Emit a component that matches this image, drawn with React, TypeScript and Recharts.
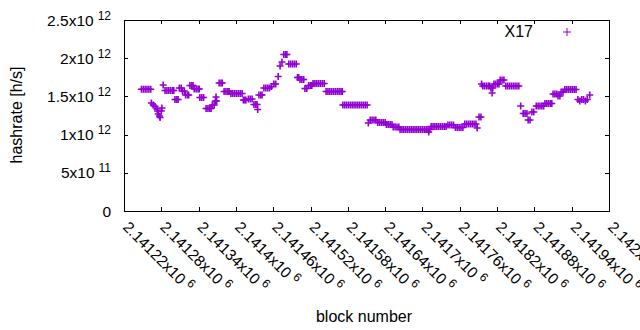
import React from 'react';
import { ScatterChart, Scatter, XAxis, YAxis, Legend } from 'recharts';

const FONT = '"Liberation Sans", Arial, Helvetica, sans-serif';
const COLOR = '#9400d3';

// plot frame (matches chart margins + axis sizes below)
const FRAME = { left: 124, top: 20, right: 609, bottom: 211 };
const TICK_LEN = 4;

const seriesName = 'X17';
const xTitle = 'block number';
const yTitle = 'hashrate [h/s]';

const xDomain = [2141220, 2142000];
const xTicks = [2141220, 2141280, 2141340, 2141400, 2141460, 2141520, 2141580, 2141640, 2141700, 2141760, 2141820, 2141880, 2141940, 2142000];
const xTickMantissas = ['2.14122', '2.14128', '2.14134', '2.1414', '2.14146', '2.14152', '2.14158', '2.14164', '2.1417', '2.14176', '2.14182', '2.14188', '2.14194', '2.142'];
const xTickExponent = '6';

const yDomain = [0, 2.5e12];
const yTicks = [0, 5e11, 1e12, 1.5e12, 2e12, 2.5e12];
const yTickMantissas = ['0', '5x10', '1x10', '1.5x10', '2x10', '2.5x10'];
const yTickExponents = ['', '11', '12', '12', '12', '12'];

const blockNumbers = [
  2141248, 2141251, 2141254, 2141257, 2141260, 2141263,
  2141264, 2141267, 2141270, 2141273, 2141274, 2141275, 2141277, 2141278, 2141280, 2141281,
  2141283, 2141286, 2141289, 2141292, 2141295, 2141298, 2141300,
  2141302, 2141305, 2141307, 2141309, 2141312,
  2141314, 2141317, 2141319, 2141322, 2141324,
  2141326, 2141329, 2141331, 2141333, 2141336, 2141339, 2141341,
  2141342, 2141345, 2141348, 2141352, 2141355, 2141358, 2141360,
  2141362, 2141365, 2141367, 2141368, 2141369,
  2141373, 2141376, 2141378, 2141381, 2141384, 2141387, 2141389,
  2141392, 2141395, 2141398, 2141401, 2141404, 2141407, 2141410,
  2141412, 2141414, 2141416, 2141420, 2141423, 2141426,
  2141429, 2141432, 2141434, 2141435, 2141437, 2141440, 2141442,
  2141445, 2141448, 2141451, 2141454, 2141457, 2141461, 2141464,
  2141468, 2141471, 2141474, 2141477, 2141480, 2141482,
  2141485, 2141488, 2141491, 2141494, 2141497,
  2141499, 2141501, 2141503, 2141506, 2141509, 2141511, 2141514,
  2141517, 2141520, 2141522,
  2141524, 2141527, 2141530, 2141533, 2141536, 2141539, 2141542,
  2141545, 2141548, 2141551, 2141554, 2141557, 2141560, 2141563, 2141566, 2141569, 2141571,
  2141572, 2141575, 2141578, 2141581, 2141584, 2141587, 2141590, 2141593, 2141596, 2141599, 2141602, 2141605, 2141608, 2141611,
  2141613, 2141616, 2141619, 2141622, 2141625,
  2141628, 2141631, 2141634, 2141637, 2141640,
  2141642, 2141645, 2141648, 2141651, 2141653, 2141656, 2141659, 2141662,
  2141664, 2141667, 2141670, 2141673, 2141676, 2141679, 2141682, 2141685, 2141688, 2141691, 2141694, 2141697, 2141700, 2141703, 2141706, 2141709, 2141712,
  2141710,
  2141714, 2141717, 2141720, 2141723, 2141726, 2141729, 2141732, 2141735, 2141738,
  2141741, 2141744, 2141747, 2141750,
  2141753, 2141756, 2141759, 2141762, 2141765,
  2141768, 2141771, 2141774, 2141777, 2141780, 2141783, 2141786,
  2141788, 2141791, 2141794, 2141795,
  2141797, 2141800, 2141803, 2141806, 2141808,
  2141810, 2141812, 2141813,
  2141815, 2141818, 2141821, 2141823,
  2141825, 2141828, 2141831,
  2141834, 2141837, 2141840, 2141843, 2141846, 2141849, 2141852, 2141855,
  2141858, 2141862, 2141865, 2141868, 2141870, 2141873, 2141876, 2141879,
  2141883, 2141886, 2141889, 2141892, 2141895,
  2141897, 2141900, 2141903, 2141906, 2141908,
  2141910, 2141913, 2141916, 2141918, 2141921, 2141923, 2141926,
  2141929, 2141932, 2141935, 2141938, 2141941, 2141944, 2141947,
  2141950, 2141953, 2141956, 2141959, 2141962, 2141965, 2141969,
];

const hashrates = [
  1.593e12, 1.593e12, 1.593e12, 1.593e12, 1.593e12, 1.593e12,
  1.414e12, 1.387e12, 1.368e12, 1.335e12, 1.309e12, 1.27e12, 1.243e12, 1.224e12, 1.309e12, 1.348e12,
  1.649e12, 1.577e12, 1.577e12, 1.577e12, 1.577e12, 1.577e12, 1.577e12,
  1.459e12, 1.459e12, 1.459e12, 1.61e12, 1.61e12,
  1.571e12, 1.571e12, 1.518e12, 1.518e12, 1.518e12,
  1.643e12, 1.643e12, 1.643e12, 1.597e12, 1.597e12, 1.597e12, 1.597e12,
  1.486e12, 1.486e12, 1.486e12, 1.342e12, 1.342e12, 1.342e12, 1.342e12,
  1.387e12, 1.387e12, 1.44e12, 1.492e12, 1.44e12,
  1.675e12, 1.675e12, 1.675e12, 1.564e12, 1.564e12, 1.564e12, 1.564e12,
  1.538e12, 1.538e12, 1.538e12, 1.538e12, 1.538e12, 1.538e12, 1.538e12,
  1.453e12, 1.453e12, 1.453e12, 1.466e12, 1.466e12, 1.466e12,
  1.394e12, 1.394e12, 1.394e12, 1.329e12, 1.518e12, 1.518e12, 1.518e12,
  1.61e12, 1.61e12, 1.61e12, 1.61e12, 1.63e12, 1.662e12, 1.662e12,
  1.76e12, 1.898e12, 1.95e12, 2.048e12, 2.048e12, 2.048e12,
  1.924e12, 1.924e12, 1.924e12, 1.924e12, 1.924e12,
  1.747e12, 1.747e12, 1.721e12, 1.721e12, 1.721e12, 1.603e12, 1.603e12,
  1.643e12, 1.643e12, 1.643e12,
  1.669e12, 1.669e12, 1.669e12, 1.669e12, 1.669e12, 1.669e12, 1.669e12,
  1.564e12, 1.564e12, 1.564e12, 1.564e12, 1.564e12, 1.564e12, 1.564e12, 1.564e12, 1.564e12, 1.564e12,
  1.387e12, 1.387e12, 1.387e12, 1.387e12, 1.387e12, 1.387e12, 1.387e12, 1.387e12, 1.387e12, 1.387e12, 1.387e12, 1.387e12, 1.387e12, 1.387e12,
  1.152e12, 1.191e12, 1.191e12, 1.191e12, 1.191e12,
  1.158e12, 1.158e12, 1.158e12, 1.158e12, 1.158e12,
  1.132e12, 1.132e12, 1.132e12, 1.132e12, 1.099e12, 1.099e12, 1.099e12, 1.099e12,
  1.067e12, 1.067e12, 1.067e12, 1.067e12, 1.067e12, 1.067e12, 1.067e12, 1.067e12, 1.067e12, 1.067e12, 1.067e12, 1.067e12, 1.067e12, 1.067e12, 1.067e12, 1.067e12, 1.067e12,
  1.034e12,
  1.106e12, 1.106e12, 1.106e12, 1.106e12, 1.106e12, 1.106e12, 1.106e12, 1.106e12, 1.106e12,
  1.126e12, 1.126e12, 1.126e12, 1.126e12,
  1.093e12, 1.093e12, 1.093e12, 1.093e12, 1.093e12,
  1.139e12, 1.139e12, 1.139e12, 1.139e12, 1.139e12, 1.139e12, 1.139e12,
  1.086e12, 1.23e12, 1.23e12, 1.662e12,
  1.636e12, 1.636e12, 1.636e12, 1.636e12, 1.636e12,
  1.61e12, 1.545e12, 1.61e12,
  1.662e12, 1.662e12, 1.662e12, 1.662e12,
  1.715e12, 1.715e12, 1.715e12,
  1.636e12, 1.636e12, 1.636e12, 1.636e12, 1.636e12, 1.636e12, 1.636e12, 1.636e12,
  1.374e12, 1.276e12, 1.276e12, 1.276e12, 1.191e12, 1.191e12, 1.296e12, 1.296e12,
  1.374e12, 1.374e12, 1.374e12, 1.374e12, 1.374e12,
  1.407e12, 1.407e12, 1.407e12, 1.407e12, 1.407e12,
  1.531e12, 1.531e12, 1.531e12, 1.505e12, 1.505e12, 1.558e12, 1.558e12,
  1.59e12, 1.59e12, 1.59e12, 1.59e12, 1.59e12, 1.59e12, 1.59e12,
  1.459e12, 1.44e12, 1.459e12, 1.459e12, 1.44e12, 1.459e12, 1.518e12,
];

const data = blockNumbers.map((b, i) => ({ block: b, hashrate: hashrates[i] }));

const PlusShape = (props: any) => {
  const { cx, cy } = props;
  if (cx == null || cy == null) return null;
  return (
    <path
      d={`M${cx - 3.5},${cy}H${cx + 3.5}M${cx},${cy - 3.5}V${cy + 3.5}`}
      stroke={COLOR}
      strokeWidth={1.6}
      fill="none"
    />
  );
};

const XTick = (props: any) => {
  const { x, payload } = props;
  const idx = xTicks.indexOf(payload.value);
  const x0 = x - 2;
  const y0 = 228;
  const lx = Math.round(x) + 0.5;
  const tickPath =
    `M${lx},${FRAME.bottom}V${FRAME.bottom - TICK_LEN}` +
    `M${lx},${FRAME.top}V${FRAME.top + TICK_LEN}`;
  return (
    <g>
      <path d={tickPath} stroke="#000" strokeWidth={1} fill="none" />
      <text
        x={x0}
        y={y0}
        transform={`rotate(45 ${x0} ${y0})`}
        textAnchor="start"
        fontFamily={FONT}
        fontSize={15.5}
        fill="#000"
      >
        {xTickMantissas[idx]}x10
        <tspan dx={4} dy={-6} fontSize={12}>{xTickExponent}</tspan>
      </text>
    </g>
  );
};

const YTick = (props: any) => {
  const { y, payload } = props;
  const idx = yTicks.indexOf(payload.value);
  const exp = yTickExponents[idx];
  const ly = Math.round(y) + 0.5;
  const tickPath =
    `M${FRAME.left},${ly}H${FRAME.left + TICK_LEN}` +
    `M${FRAME.right},${ly}H${FRAME.right - TICK_LEN}`;
  return (
    <g>
      <path d={tickPath} stroke="#000" strokeWidth={1} fill="none" />
      <text x={111} y={y + 5.5} textAnchor="end" fontFamily={FONT} fontSize={15.5} fill="#000">
        {yTickMantissas[idx]}
        {exp ? <tspan dx={4} dy={-6} fontSize={12}>{exp}</tspan> : null}
      </text>
    </g>
  );
};

// plot frame drawn as an overlay box exactly on the plotting area
const frameStyle: React.CSSProperties = {
  position: 'absolute',
  left: FRAME.left,
  top: FRAME.top,
  width: FRAME.right - FRAME.left + 1,
  height: FRAME.bottom - FRAME.top + 1,
  border: '1px solid #000',
  boxSizing: 'border-box',
  pointerEvents: 'none',
};

const XTitle = () => (
  <text x={364} y={322} textAnchor="middle" fontFamily={FONT} fontSize={16} fill="#000">
    {xTitle}
  </text>
);

const YTitle = () => (
  <text
    x={21.5}
    y={115}
    transform="rotate(-90 21.5 115)"
    textAnchor="middle"
    fontFamily={FONT}
    fontSize={16}
    fill="#000"
  >
    {yTitle}
  </text>
);

const LegendContent = () => (
  <div style={{ position: 'relative', width: 110, height: 20, fontFamily: FONT, fontSize: 16 }}>
    <span style={{ position: 'absolute', right: 57, top: 1, lineHeight: '18px', color: '#000' }}>{seriesName}</span>
    <svg width={10} height={10} style={{ position: 'absolute', left: 82, top: 5 }}>
      <path d="M1,5H9M5,1V9" stroke={COLOR} strokeWidth={1} fill="none" />
    </svg>
  </div>
);

export default function App() {
  return (
    <div style={{ position: 'absolute', left: 0, top: 0, width: 640, height: 330, background: '#fff' }}>
      <ScatterChart
        width={640}
        height={330}
        margin={{ top: FRAME.top, right: 640 - FRAME.right, bottom: 0, left: 0 }}
        style={{ fontFamily: FONT }}
      >
        <XAxis
          dataKey="block"
          type="number"
          domain={xDomain}
          ticks={xTicks}
          interval={0}
          allowDataOverflow
          height={330 - FRAME.bottom}
          axisLine={false}
          tickLine={false}
          tick={<XTick />}
          label={<XTitle />}
        />
        <YAxis
          dataKey="hashrate"
          type="number"
          domain={yDomain}
          ticks={yTicks}
          interval={0}
          allowDataOverflow
          width={FRAME.left}
          axisLine={false}
          tickLine={false}
          tick={<YTick />}
          label={<YTitle />}
        />
        <Legend
          layout="horizontal"
          verticalAlign="middle"
          align="center"
          content={<LegendContent />}
          wrapperStyle={{ top: 22, left: 480, width: 110, height: 20 }}
        />
        <Scatter name={seriesName} data={data} shape={<PlusShape />} isAnimationActive={false} />
      </ScatterChart>
      <div style={frameStyle} />
    </div>
  );
}
